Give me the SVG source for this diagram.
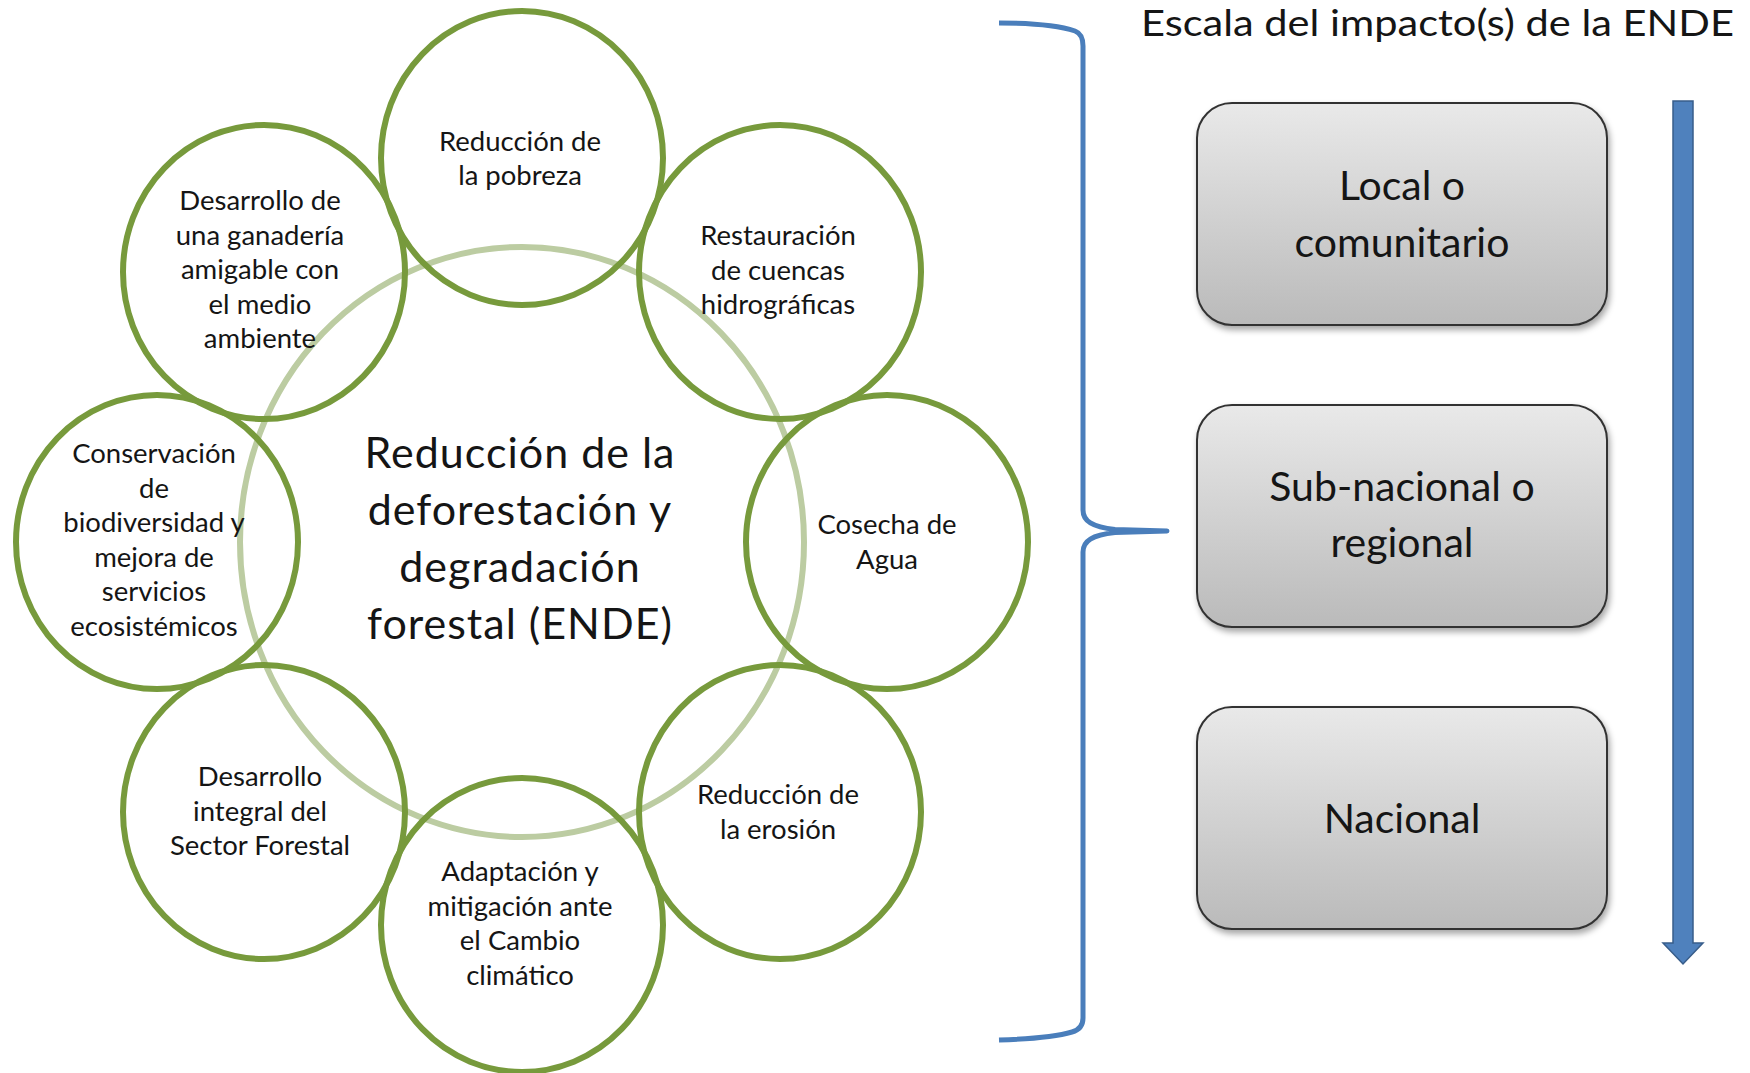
<svg xmlns="http://www.w3.org/2000/svg" width="1750" height="1073" viewBox="0 0 1750 1073">
<defs>
<linearGradient id="boxGrad" x1="0" y1="0" x2="0" y2="1">
<stop offset="0" stop-color="#e9e9e9"/>
<stop offset="1" stop-color="#bababa"/>
</linearGradient>
<filter id="shadow" x="-10%" y="-10%" width="125%" height="130%">
<feDropShadow dx="2" dy="4" stdDeviation="3" flood-color="#000" flood-opacity="0.35"/>
</filter>
<style>
.ring{fill:none;stroke:#779a3c;stroke-width:6}
.big{fill:none;stroke:#bccca2;stroke-width:6}
.t{font-family:Lato,"Liberation Sans",sans-serif;fill:#151515;text-anchor:middle}
.s{font-size:27.5px}
.c{font-size:43px;letter-spacing:1px}
.b{font-size:41px}
.box{fill:url(#boxGrad);stroke:#333;stroke-width:2;filter:url(#shadow)}
.brace{fill:none;stroke:#4a7ebb;stroke-width:5;stroke-linecap:butt;stroke-linejoin:round}
.arrow{fill:#4f81bd;stroke:#385d8a;stroke-width:1.5}
</style>
</defs>
<rect width="1750" height="1073" fill="#fff"/>

<g id="center">
<ellipse class="big" cx="522" cy="542" rx="282" ry="295"/>
</g>

<g id="ring-circles">
<ellipse class="ring" cx="522" cy="158" rx="141" ry="147"/>
<ellipse class="ring" cx="780" cy="272" rx="141" ry="147"/>
<ellipse class="ring" cx="887" cy="542" rx="141" ry="147"/>
<ellipse class="ring" cx="780" cy="812" rx="141" ry="147"/>
<ellipse class="ring" cx="522" cy="925" rx="141" ry="147"/>
<ellipse class="ring" cx="264" cy="812" rx="141" ry="147"/>
<ellipse class="ring" cx="157" cy="542" rx="141" ry="147"/>
<ellipse class="ring" cx="264" cy="272" rx="141" ry="147"/>
</g>

<g id="center-text">
<text class="t c" x="520"><tspan x="520" y="468">Reducción de la</tspan><tspan x="520" y="525">deforestación y</tspan><tspan x="520" y="582">degradación</tspan><tspan x="520" y="639">forestal (ENDE)</tspan></text>
</g>

<g id="n-pobreza">
<text class="t s"><tspan x="520" y="151">Reducción de</tspan><tspan x="520" y="185">la pobreza</tspan></text>
</g>
<g id="n-cuencas">
<text class="t s"><tspan x="778" y="245">Restauración</tspan><tspan x="778" y="279.5">de cuencas</tspan><tspan x="778" y="314">hidrográficas</tspan></text>
</g>
<g id="n-agua">
<text class="t s"><tspan x="887" y="534">Cosecha de</tspan><tspan x="887" y="568.5">Agua</tspan></text>
</g>
<g id="n-erosion">
<text class="t s"><tspan x="778" y="804">Reducción de</tspan><tspan x="778" y="838.5">la erosión</tspan></text>
</g>
<g id="n-adaptacion">
<text class="t s"><tspan x="520" y="881">Adaptación y</tspan><tspan x="520" y="915.5">mitigación ante</tspan><tspan x="520" y="950">el Cambio</tspan><tspan x="520" y="984.5">climático</tspan></text>
</g>
<g id="n-forestal">
<text class="t s"><tspan x="260" y="786">Desarrollo</tspan><tspan x="260" y="820.5">integral del</tspan><tspan x="260" y="855">Sector Forestal</tspan></text>
</g>
<g id="n-biodiversidad">
<text class="t s"><tspan x="154" y="463">Conservación</tspan><tspan x="154" y="497.5">de</tspan><tspan x="154" y="532">biodiversidad y</tspan><tspan x="154" y="566.5">mejora de</tspan><tspan x="154" y="601">servicios</tspan><tspan x="154" y="635.5">ecosistémicos</tspan></text>
</g>
<g id="n-ganaderia">
<text class="t s"><tspan x="260" y="210">Desarrollo de</tspan><tspan x="260" y="244.5">una ganadería</tspan><tspan x="260" y="279">amigable con</tspan><tspan x="260" y="313.5">el medio</tspan><tspan x="260" y="348">ambiente</tspan></text>
</g>

<g id="title">
<text x="1141" y="36" font-family="Lato, 'Liberation Sans', sans-serif" font-size="37" fill="#151515" textLength="593" lengthAdjust="spacingAndGlyphs">Escala del impacto(s) de la ENDE</text>
</g>

<g id="box-local">
<rect class="box" x="1197" y="103" width="410" height="222" rx="35"/>
<text class="t b"><tspan x="1402" y="200">Local o</tspan><tspan x="1402" y="256.5">comunitario</tspan></text>
</g>
<g id="box-subnacional">
<rect class="box" x="1197" y="405" width="410" height="222" rx="35"/>
<text class="t b"><tspan x="1402" y="501">Sub-nacional o</tspan><tspan x="1402" y="557">regional</tspan></text>
</g>
<g id="box-nacional">
<rect class="box" x="1197" y="707" width="410" height="222" rx="35"/>
<text class="t b" x="1402" y="833">Nacional</text>
</g>

<g id="connectors">
<path class="brace" d="M999 23 C1035 23 1060 26 1075 31 Q1083 34 1083 46 L1083 510 C1083 521 1092 527 1115 529.5 L1167 531 L1115 532.5 C1092 535 1083 541 1083 552 L1083 1018 Q1083 1029 1072 1032 C1055 1037 1030 1039 999 1040"/>
<polygon class="arrow" points="1673,101 1693,101 1693,943 1703,943 1683,964 1663,943 1673,943"/>
</g>
</svg>
